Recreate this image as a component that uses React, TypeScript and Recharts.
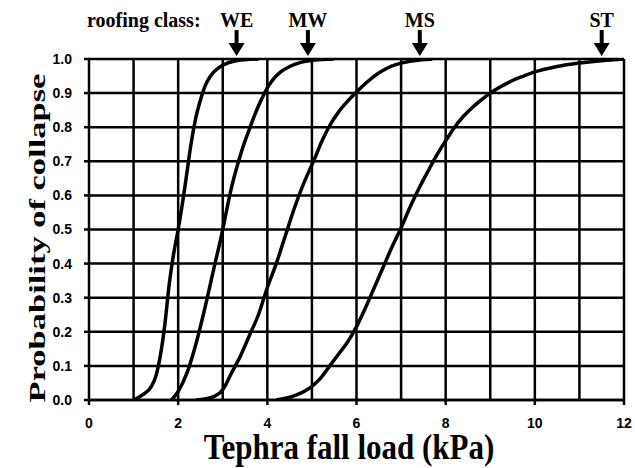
import { LineChart, Line, XAxis, YAxis, CartesianGrid, ReferenceLine, ReferenceDot, Label } from 'recharts';

// collapse probability curves: [load kPa, probability]
const weCurve = [
  [1.0, 0], [1.2, 0.015], [1.4, 0.04], [1.5, 0.07], [1.6, 0.13], [1.7, 0.22],
  [1.8, 0.34], [1.9, 0.43], [2.0, 0.5], [2.1, 0.58], [2.2, 0.67], [2.3, 0.76],
  [2.4, 0.83], [2.5, 0.88], [2.6, 0.92], [2.7, 0.945], [2.8, 0.962], [3.0, 0.982],
  [3.3, 0.995], [3.8, 1.0],
];
const mwCurve = [
  [1.85, 0], [2.0, 0.025], [2.2, 0.08], [2.4, 0.165], [2.6, 0.27], [2.8, 0.385],
  [3.0, 0.5], [3.1, 0.565], [3.2, 0.625], [3.3, 0.675], [3.4, 0.72], [3.5, 0.76],
  [3.6, 0.795], [3.7, 0.83], [3.8, 0.862], [3.9, 0.89], [4.0, 0.915],
  [4.13, 0.94], [4.3, 0.962], [4.5, 0.978], [4.75, 0.99], [5.0, 0.996],
  [5.5, 1.0],
];
const msCurve = [
  [2.4, 0], [2.8, 0.01], [3.0, 0.03], [3.2, 0.08], [3.4, 0.13], [3.6, 0.19],
  [3.8, 0.25], [4.0, 0.33], [4.2, 0.4], [4.4, 0.48], [4.6, 0.56], [4.8, 0.63],
  [5.0, 0.69], [5.1, 0.72], [5.2, 0.752], [5.3, 0.78], [5.4, 0.805], [5.6, 0.845],
  [5.8, 0.876], [6.0, 0.903], [6.2, 0.928], [6.4, 0.95], [6.6, 0.967],
  [6.8, 0.98], [7.0, 0.988], [7.3, 0.995], [7.7, 1.0],
];
const stCurve = [
  [4.2, 0], [4.6, 0.012], [5.0, 0.04], [5.2, 0.065], [5.4, 0.1], [5.6, 0.135],
  [5.8, 0.17], [6.0, 0.215], [6.2, 0.27], [6.4, 0.33], [6.6, 0.39], [6.8, 0.45],
  [7.0, 0.505], [7.2, 0.565], [7.4, 0.62], [7.6, 0.67], [7.8, 0.718],
  [8.0, 0.76], [8.2, 0.8], [8.4, 0.832], [8.6, 0.858], [8.8, 0.88],
  [9.0, 0.9], [9.25, 0.92], [9.5, 0.937], [9.75, 0.95], [10.0, 0.962],
  [10.5, 0.978], [11.0, 0.988], [11.5, 0.995], [12.0, 1.0],
];

const roofClasses = ['WE', 'MW', 'MS', 'ST'];
const arrowAt = [3.31, 4.91, 7.42, 11.5];

const xTicks = [0, 2, 4, 6, 8, 10, 12];
const xGrid = [1, 2, 3, 4, 5, 6, 7, 8, 9, 10, 11, 12];
const yTicks = [0, 0.1, 0.2, 0.3, 0.4, 0.5, 0.6, 0.7, 0.8, 0.9, 1.0];

const toPoints = (curve: number[][]) => curve.map(([x, p]) => ({ x, p }));
const series = [weCurve, mwCurve, msCurve, stCurve].map(toPoints);

const serif = '"Liberation Serif", "Times New Roman", serif';
const sans = '"Liberation Sans", Arial, sans-serif';

const Arrow = (props: any) => {
  const { cx, cy, name, first } = props;
  return (
    <g>
      {first && (
        <text x={cx - 36} y={cy - 32} textAnchor="end" fontFamily={serif} fontWeight="bold" fontSize={20} fill="#000">
          roofing class:
        </text>
      )}
      <text x={cx} y={cy - 32} textAnchor="middle" fontFamily={serif} fontWeight="bold" fontSize={20} fill="#000">
        {name}
      </text>
      <line x1={cx} y1={cy - 29} x2={cx} y2={cy - 14} stroke="#000" strokeWidth={4} />
      <polygon points={`${cx - 8},${cy - 16} ${cx + 8},${cy - 16} ${cx},${cy - 3}`} fill="#000" />
    </g>
  );
};

const App = () => (
  <div style={{ position: 'absolute', left: 0, top: 0 }}>
    <LineChart width={635} height={468} margin={{ top: 59, right: 11, bottom: 0, left: 0 }}>
      <CartesianGrid vertical={false} stroke="#000" strokeWidth={2.5} />
      {xGrid.map((x) => (
        <ReferenceLine key={`gx-${x}`} x={x} stroke="#000" strokeWidth={2.5} />
      ))}
      <XAxis
        dataKey="x"
        type="number"
        domain={[0, 12]}
        ticks={xTicks}
        allowDataOverflow
        height={68}
        stroke="#000"
        strokeWidth={2.5}
        tickSize={5}
        tickMargin={13}
        tick={{ fill: '#000', fontFamily: sans, fontWeight: 'bold', fontSize: 14 }}
      >
        <Label
          content={() => (
            <text transform="translate(349,459) scale(1,1.15)" x={0} y={0} textAnchor="middle" fontFamily={serif} fontWeight="bold" fontSize={31} fill="#000">
              Tephra fall load (kPa)
            </text>
          )}
        />
      </XAxis>
      <YAxis
        type="number"
        domain={[0, 1]}
        ticks={yTicks}
        allowDataOverflow
        width={89}
        stroke="#000"
        strokeWidth={2.5}
        tickSize={5}
        tickMargin={12}
        tickFormatter={(v: number) => v.toFixed(1)}
        tick={{ fill: '#000', fontFamily: sans, fontWeight: 'bold', fontSize: 14 }}
      >
        <Label
          content={() => (
            <text transform="translate(45,238) rotate(-90) scale(1.5,1)" x={0} y={0} textAnchor="middle" fontFamily={serif} fontWeight="bold" fontSize={23} fill="#000">
              Probability of collapse
            </text>
          )}
        />
      </YAxis>
      {series.map((data, i) => (
        <Line
          key={roofClasses[i]}
          data={data}
          dataKey="p"
          type="monotone"
          stroke="#000"
          strokeWidth={3.5}
          dot={false}
          isAnimationActive={false}
        />
      ))}
      {roofClasses.map((name, i) => (
        <ReferenceDot
          key={`arrow-${name}`}
          x={arrowAt[i]}
          y={1}
          ifOverflow="visible"
          shape={(p: any) => <Arrow {...p} name={name} first={i === 0} />}
        />
      ))}
    </LineChart>
  </div>
);

export default App;
